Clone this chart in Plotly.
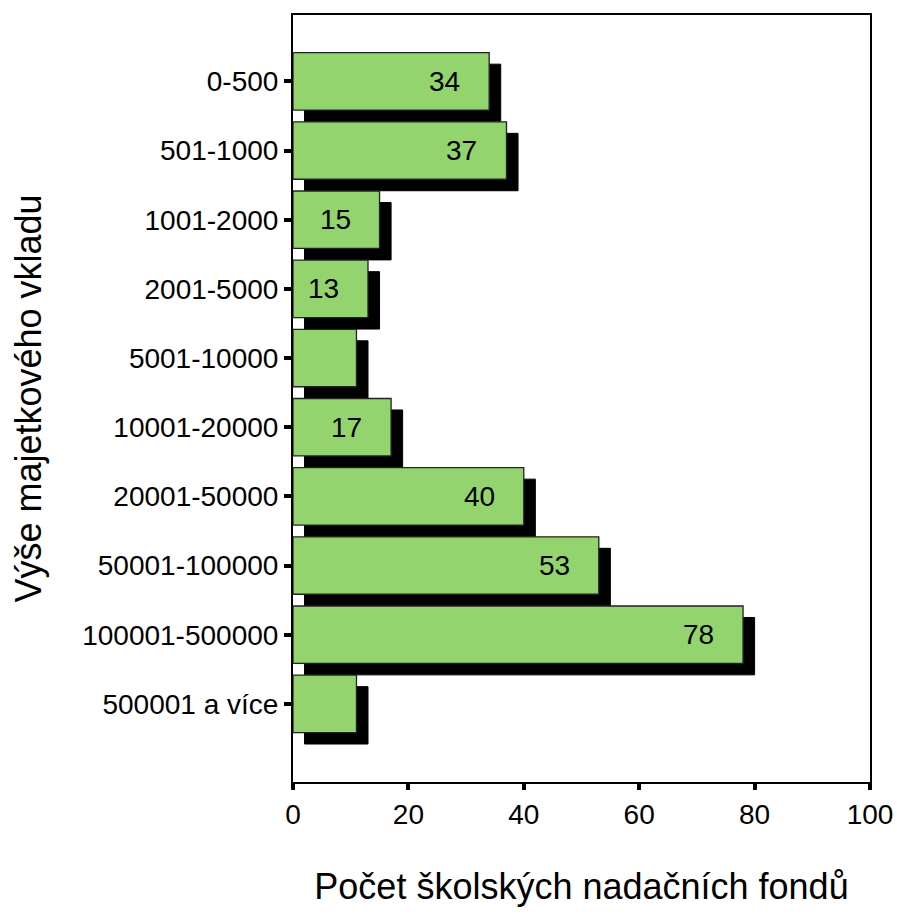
import plotly.graph_objects as go

categories = ["0-500", "501-1000", "1001-2000", "2001-5000", "5001-10000",
              "10001-20000", "20001-50000", "50001-100000", "100001-500000", "500001 a více"]
values = [34, 37, 15, 13, 11, 17, 40, 53, 78, 11]
labels = ["34", "37", "15", "13", "", "17", "40", "53", "78", ""]
x_ticks = [0, 20, 40, 60, 80, 100]

FONT = "Liberation Sans, Arial, sans-serif"
GREEN = "#93D46F"
BAR_W = 0.83
SHADOW_DY = 0.166
SHADOW_DX = 2

fig = go.Figure()

# shadow
fig.add_trace(go.Bar(
    y=categories, x=values, base=[SHADOW_DX] * len(values), orientation="h",
    width=BAR_W, offset=-BAR_W / 2 + SHADOW_DY,
    marker=dict(color="black", line=dict(color="black", width=1)),
    hoverinfo="skip", showlegend=False,
))
# main bars
fig.add_trace(go.Bar(
    y=categories, x=values, orientation="h",
    width=BAR_W, offset=-BAR_W / 2,
    marker=dict(color=GREEN, line=dict(color="#222222", width=1.3)),
    showlegend=False,
))

for c, v, t in zip(categories, values, labels):
    if t:
        fig.add_annotation(x=v, y=c, text=t, showarrow=False, xanchor="right",
                           xshift=-27, yanchor="middle",
                           font=dict(family=FONT, size=28, color="black"))

fig.update_layout(
    width=897, height=916, barmode="overlay",
    paper_bgcolor="white", plot_bgcolor="white",
    margin=dict(l=293, r=27, t=15, b=134),
    font=dict(family=FONT, color="black"),
)
fig.update_xaxes(
    range=[0, 100], tickvals=x_ticks, ticktext=[str(v) for v in x_ticks],
    showgrid=False, zeroline=False, showline=True, linecolor="black", linewidth=2,
    mirror=True, ticks="outside", ticklen=6, tickwidth=4, tickcolor="black",
    tickfont=dict(size=28, family=FONT), automargin=False, ticklabeloverflow="allow",
    title=dict(text="Počet školských nadačních fondů", font=dict(size=36, family=FONT), standoff=45),
)
fig.update_yaxes(
    type="category", categoryorder="array", categoryarray=categories,
    range=[10.13, -0.96],
    showgrid=False, zeroline=False, showline=True, linecolor="black", linewidth=2,
    mirror=True, ticks="outside", ticklen=7, tickwidth=4, tickcolor="black",
    tickfont=dict(size=28, family=FONT), automargin=False,
    title=dict(text="Výše majetkového vkladu", font=dict(size=36, family=FONT), standoff=30),
)

fig.write_html("out.html", config={"displayModeBar": False},
               post_script="document.body.style.margin='0';document.body.style.overflow='hidden';")
